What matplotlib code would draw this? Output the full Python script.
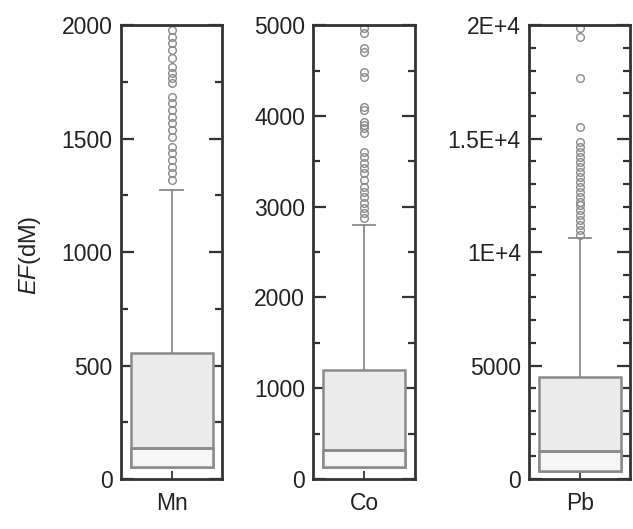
import matplotlib
matplotlib.use('Agg')
import matplotlib.pyplot as plt
from matplotlib.patches import Rectangle
from matplotlib.ticker import MultipleLocator, FixedLocator, FixedFormatter

plt.rcParams['font.family'] = 'Liberation Sans'
plt.rcParams['mathtext.fontset'] = 'custom'
plt.rcParams['mathtext.it'] = 'Liberation Sans:italic'
plt.rcParams['mathtext.rm'] = 'Liberation Sans'

# box statistics per element
elements = ['Mn', 'Co', 'Pb']
q1 = [55, 135, 350]
median = [135, 315, 1230]
q3 = [555, 1200, 4490]
whis_hi = [1275, 2800, 10620]

# outliers above the upper whisker
mn_out = [1978, 1947, 1921, 1890, 1855, 1815, 1789, 1767, 1744, 1683, 1656, 1626,
          1595, 1568, 1537, 1507, 1463, 1436, 1405, 1374, 1348, 1317]
co_out = [4967, 4912, 4747, 4703, 4482, 4427, 4097, 4064, 3932, 3899, 3866, 3811,
          3601, 3546, 3480, 3425, 3370, 3293, 3216, 3161, 3106, 3040, 2985, 2930, 2874]
pb_out = [19868, 19471, 17665, 15507, 14846, 14626, 14405, 14185, 13965, 13744,
          13524, 13304, 13084, 12863, 12643, 12423, 12203, 12070, 11850, 11630,
          11410, 11189, 10969, 10749]
outliers = [mn_out, co_out, pb_out]

y_max = [2000, 5000, 20000]
major_step = [500, 1000, 5000]
minor_step = [250, 500, 1000]
pb_ticks = [0, 5000, 10000, 15000, 20000]
pb_labels = ['0', '5000', '1E+4', '1.5E+4', '2E+4']

fig = plt.figure(figsize=(6.33, 5.29), dpi=100)
lefts = [0.191, 0.495, 0.836]
edge = '#8a8a8a'
dark = '#333333'
box_w = 0.81

for i, el in enumerate(elements):
    ax = fig.add_axes([lefts[i], 0.0945, 0.160, 0.858])
    # lower whisker sits on the box bottom (no visible lower whisker)
    stats = [{'med': median[i], 'q1': q1[i], 'q3': q3[i],
              'whislo': q1[i], 'whishi': whis_hi[i],
              'fliers': outliers[i], 'label': el}]
    ax.bxp(stats, positions=[1], widths=box_w, capwidths=0.22,
           patch_artist=True, showfliers=True,
           boxprops=dict(facecolor='#ebebeb', edgecolor=edge, linewidth=1.8),
           medianprops=dict(color=edge, linewidth=1.8, zorder=3),
           whiskerprops=dict(color=edge, linewidth=1.3),
           capprops=dict(color=edge, linewidth=1.3),
           flierprops=dict(marker='o', markersize=5.5, markerfacecolor='none',
                           markeredgecolor=edge, markeredgewidth=1.0))
    # lighter shade between lower quartile and median
    ax.add_patch(Rectangle((1 - box_w / 2, q1[i]), box_w, median[i] - q1[i],
                           facecolor='#f6f6f6', edgecolor=edge, linewidth=1.8,
                           zorder=2.5))
    ax.set_xlim(0.5, 1.5)
    ax.set_ylim(0, y_max[i])
    if el == 'Pb':
        ax.yaxis.set_major_locator(FixedLocator(pb_ticks))
        ax.yaxis.set_major_formatter(FixedFormatter(pb_labels))
    else:
        ax.yaxis.set_major_locator(MultipleLocator(major_step[i]))
    ax.yaxis.set_minor_locator(MultipleLocator(minor_step[i]))
    ax.tick_params(axis='y', which='major', direction='in', length=9.5, width=1.6,
                   left=True, right=True, labelsize=16.5, color=dark,
                   labelcolor='#222222', pad=6)
    ax.tick_params(axis='y', which='minor', direction='in', length=5, width=1.6,
                   left=True, right=True, color=dark)
    ax.tick_params(axis='x', direction='in', length=6, width=1.3, labelsize=16.5,
                   color=dark, labelcolor='#222222', pad=9)
    for sp in ax.spines.values():
        sp.set_linewidth(2.0)
        sp.set_color(dark)

fig.text(0.048, 0.518, r'$\it{EF}$(dM)', rotation=90, fontsize=17,
         ha='center', va='center', color='#222222')

fig.savefig('out.png', dpi=100, facecolor='white')
